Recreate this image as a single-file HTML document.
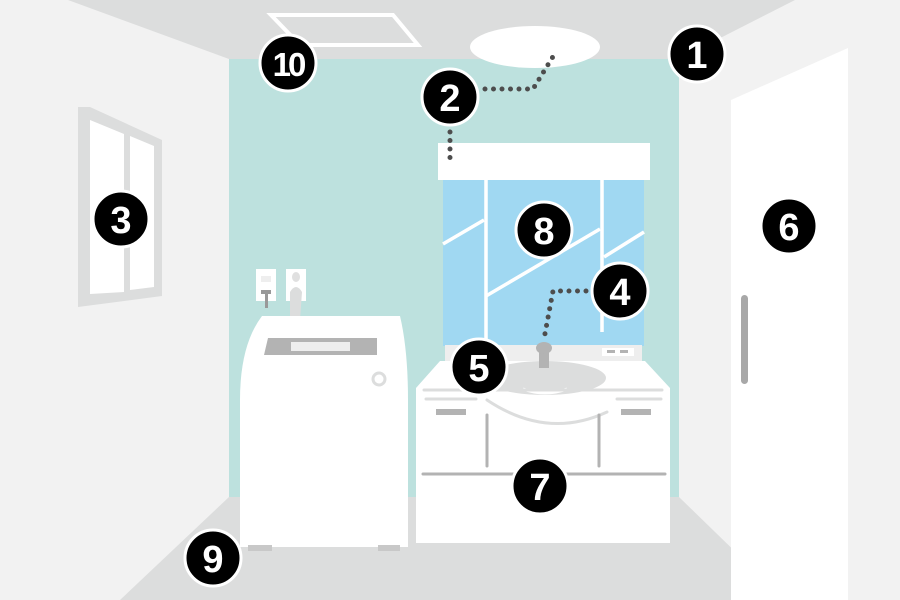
<!DOCTYPE html>
<html><head><meta charset="utf-8"><style>body{margin:0}svg{display:block}</style></head><body>
<svg width="900" height="600" viewBox="0 0 900 600" xmlns="http://www.w3.org/2000/svg" font-family="Liberation Sans, sans-serif">
<rect width="900" height="600" fill="#f2f2f2"/>
<polygon points="68,0 795,0 679,59 229,59" fill="#dcdddd"/>
<polygon points="229,497 679,497 785,600 120,600" fill="#dcdddd"/>
<rect x="229" y="59" width="450" height="438" fill="#bde1de"/>
<!-- vent -->
<polygon points="271,15 393,15 418,45 300,45" fill="none" stroke="#fff" stroke-width="4"/>
<!-- ceiling light -->
<ellipse cx="535" cy="47" rx="65" ry="21" fill="#fff"/>
<!-- door -->
<polygon points="731,100 848,48 848,600 731,600" fill="#fff"/>
<rect x="741" y="295" width="7" height="89" rx="3.5" fill="#a8a8a8"/>
<!-- window -->
<polygon points="78,107 90,107 162,140 162,296 78,307" fill="#dcdddd"/>
<polygon points="90,120 124,134 124,292 90,294" fill="#fff"/>
<polygon points="130,136 154,146 154,287 130,290" fill="#fff"/>
<!-- mirror -->
<rect x="438" y="143" width="212" height="37" fill="#fff"/>
<rect x="443" y="180" width="201" height="166" fill="#a0d8f2"/>
<g stroke="#fff" stroke-width="3.5" fill="none">
<line x1="486" y1="180" x2="486" y2="346"/><line x1="602" y1="180" x2="602" y2="332"/>
<line x1="443" y1="244" x2="484" y2="220"/><line x1="486" y1="296" x2="600" y2="229"/><line x1="604" y1="257" x2="644" y2="232"/>
</g>
<rect x="445" y="345" width="197" height="16" fill="#eeeeee"/>
<rect x="602" y="348" width="32" height="8" fill="#fff"/>
<rect x="607" y="350" width="8" height="3" fill="#b3b3b3"/><rect x="620" y="350" width="8" height="3" fill="#b3b3b3"/>
<!-- vanity -->
<polygon points="440,361 645,361 670,388 670,543 416,543 416,388" fill="#fff"/>
<ellipse cx="545" cy="378" rx="61" ry="17" fill="#dcdddd"/>
<path d="M523,389 q22,8 44,0" stroke="#fff" stroke-width="3" fill="none"/>
<rect x="539" y="347" width="10" height="21" fill="#b3b3b3"/><ellipse cx="544" cy="348" rx="8" ry="6" fill="#b3b3b3"/>
<g stroke="#dcdddd" stroke-width="3" fill="none" stroke-linecap="round">
<line x1="424" y1="390" x2="662" y2="390"/><line x1="426" y1="399" x2="476" y2="399"/><line x1="617" y1="399" x2="661" y2="399"/>
<path d="M487,400 q60,40 120,12"/>
</g>
<rect x="436" y="409" width="30" height="6" fill="#b3b3b3"/><rect x="621" y="409" width="30" height="6" fill="#b3b3b3"/>
<g stroke="#b3b3b3" stroke-width="3" stroke-linecap="round">
<line x1="487" y1="415" x2="487" y2="466"/><line x1="599" y1="415" x2="599" y2="466"/>
<line x1="423" y1="474" x2="665" y2="474"/>
</g>
<!-- outlets -->
<rect x="256" y="269" width="20" height="32" fill="#fff"/><rect x="286" y="269" width="20" height="32" fill="#fff"/>
<rect x="261" y="276" width="10" height="6" fill="#eeeeee"/><rect x="261" y="290" width="10" height="4" fill="#999"/>
<rect x="265" y="292" width="3" height="16" fill="#999"/>
<ellipse cx="296" cy="277" rx="4" ry="5" fill="#e0e0e0"/>
<path d="M290,292 q6,-10 12,0 l-2,28 h-10 z" fill="#dcdddd"/>
<!-- washing machine -->
<path d="M262,316 L400,316 Q408,350 408,400 L408,547 L240,547 L240,400 Q240,345 262,316 Z" fill="#fff"/>
<rect x="248" y="545" width="24" height="6" fill="#c8c8c8"/><rect x="378" y="545" width="22" height="6" fill="#c8c8c8"/>
<polygon points="268,338 377,338 377,355 264,355" fill="#b3b3b3"/>
<rect x="291" y="342" width="59" height="9" fill="#eeeeee"/>
<circle cx="379" cy="379" r="6" fill="none" stroke="#dcdddd" stroke-width="3"/>
<!-- dotted lines -->
<g stroke="#4d4d4d" stroke-width="5" stroke-linecap="round" stroke-dasharray="0 8.5" fill="none">
<polyline points="485,89 533,89 554,55"/>
<line x1="450" y1="132" x2="450" y2="163"/>
<polyline points="586,291 553,291 544,339"/>
</g>
<!-- badges -->
<g stroke="#fff" stroke-width="3" fill="#000">
<circle cx="697" cy="54" r="28"/><circle cx="450" cy="97" r="28"/><circle cx="121" cy="219" r="28"/>
<circle cx="620" cy="291" r="28"/><circle cx="479" cy="367" r="28"/><circle cx="789" cy="226" r="28"/>
<circle cx="540" cy="486" r="28"/><circle cx="544" cy="230" r="28"/><circle cx="213" cy="558" r="28"/>
<circle cx="288" cy="63" r="28"/>
</g>
<g fill="#fff" font-weight="bold" font-size="38" text-anchor="middle">
<text x="697" y="68">1</text><text x="450" y="111">2</text><text x="121" y="233">3</text>
<text x="620" y="305">4</text><text x="479" y="381">5</text><text x="789" y="240">6</text>
<text x="540" y="500">7</text><text x="544" y="244">8</text><text x="213" y="572">9</text>
<text x="288" y="76" font-size="33" letter-spacing="-3">10</text>
</g>
</svg>
</body></html>
